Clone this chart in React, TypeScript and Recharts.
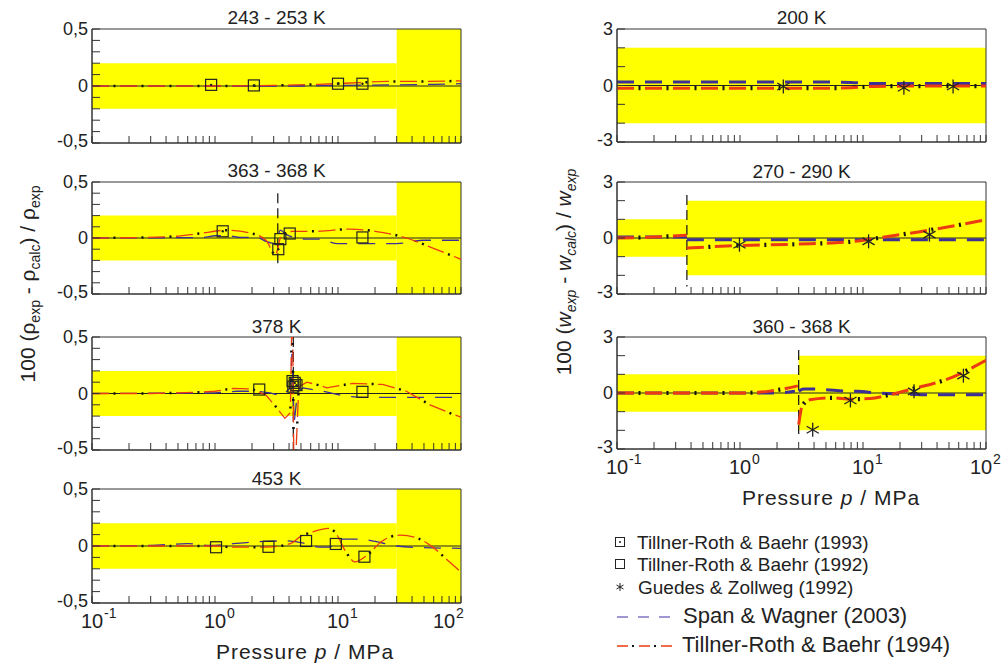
import React from 'react'
import { ComposedChart, Line, Scatter, XAxis, YAxis, ReferenceArea, ReferenceLine } from 'recharts'

const FONT = '"Liberation Sans", Arial, Helvetica, sans-serif'
const YELLOW = '#ffff00'
const PURPLE = '#3d2f96'
const RED = '#ec3a12'
const INK = '#222'

// pressure axis (log), MPa
const xTicks = [
  0.1, 0.2, 0.3, 0.4, 0.5, 0.6, 0.7, 0.8, 0.9,
  1, 2, 3, 4, 5, 6, 7, 8, 9,
  10, 20, 30, 40, 50, 60, 70, 80, 90, 100,
]
const xDecades = [0.1, 1, 10, 100]
const xExponents = ['-1', '0', '1', '2']

const rhoTicks = [-0.5, -0.4, -0.3, -0.2, -0.1, 0, 0.1, 0.2, 0.3, 0.4, 0.5]
const rhoLabels = [{ v: -0.5, t: '-0,5' }, { v: 0, t: '0' }, { v: 0.5, t: '0,5' }]
const wTicks = [-3, -2, -1, 0, 1, 2, 3]
const wLabels = [{ v: -3, t: '-3' }, { v: 0, t: '0' }, { v: 3, t: '3' }]

// tolerance bands
const rhoBands = [{ from: 0.1, to: 30, lo: -0.2, hi: 0.2 }, { from: 30, to: 100, lo: -0.5, hi: 0.5 }]
const w200Bands = [{ from: 0.1, to: 100, lo: -2, hi: 2 }]
const w280Bands = [{ from: 0.1, to: 0.37, lo: -1, hi: 1 }, { from: 0.37, to: 100, lo: -2, hi: 2 }]
const w364Bands = [{ from: 0.1, to: 3, lo: -1, hi: 1 }, { from: 3, to: 100, lo: -2, hi: 2 }]

// 243 - 253 K
const l1Span = [{ p: 0.1, dev: 0 }, { p: 1, dev: 0 }, { p: 5, dev: 0 }, { p: 10, dev: 0.005 }, { p: 30, dev: 0.01 }, { p: 60, dev: 0.015 }, { p: 100, dev: 0.02 }]
const l1Tr94 = [{ p: 0.1, dev: 0 }, { p: 1, dev: 0 }, { p: 3, dev: 0.005 }, { p: 7, dev: 0.015 }, { p: 15, dev: 0.03 }, { p: 25, dev: 0.04 }, { p: 50, dev: 0.04 }, { p: 100, dev: 0.045 }]
const l1Sq93 = [{ p: 0.93, dev: 0.01 }, { p: 2.07, dev: 0.005 }, { p: 10, dev: 0.02 }, { p: 15.8, dev: 0.02 }]

// 363 - 368 K
const l2Span = [
  { p: 0.1, dev: 0 }, { p: 0.8, dev: 0.005 }, { p: 1.0, dev: 0.02 }, { p: 1.3, dev: 0.02 }, { p: 1.6, dev: 0.005 },
  { p: 2.2, dev: 0.005 }, { p: 2.6, dev: -0.03 }, { p: 3.1, dev: -0.05 }, { p: 3.4, dev: 0.07 }, { p: 3.8, dev: 0.03 },
  { p: 5.5, dev: -0.01 }, { p: 7, dev: -0.01 }, { p: 10, dev: -0.05 }, { p: 20, dev: -0.05 }, { p: 30, dev: -0.05 },
  { p: 50, dev: -0.02 }, { p: 100, dev: -0.02 },
]
const l2Tr94 = [
  { p: 0.1, dev: 0 }, { p: 0.4, dev: 0.01 }, { p: 0.75, dev: 0.04 }, { p: 1.25, dev: 0.07 }, { p: 2.0, dev: 0.04 },
  { p: 2.6, dev: -0.02 }, { p: 3.1, dev: -0.15 }, { p: 3.4, dev: 0 }, { p: 3.6, dev: 0.03 }, { p: 4.3, dev: 0.06 },
  { p: 6.8, dev: 0.06 }, { p: 12.5, dev: 0.08 }, { p: 20, dev: 0.06 }, { p: 36, dev: 0 }, { p: 59, dev: -0.09 }, { p: 100, dev: -0.19 },
]
const l2Sq93 = [{ p: 1.155, dev: 0.06 }, { p: 3.27, dev: -0.1 }]
const l2Sq92 = [{ p: 3.4, dev: -0.01 }, { p: 4.05, dev: 0.04 }, { p: 15.8, dev: 0.005 }]
const l2Sat = { p: 3.24, hi: 0.4, lo: -0.27 }

// 378 K
const l3Span = [
  { p: 0.1, dev: 0 }, { p: 1, dev: 0.005 }, { p: 1.5, dev: 0.02 }, { p: 2.2, dev: 0.02 }, { p: 2.8, dev: 0.005 },
  { p: 3.5, dev: -0.02 }, { p: 4.1, dev: 0.05 }, { p: 4.22, dev: 0.35 }, { p: 4.4, dev: -0.26 }, { p: 4.7, dev: 0.02 },
  { p: 5.2, dev: 0.05 }, { p: 6.5, dev: 0.03 }, { p: 8, dev: 0.015 }, { p: 11, dev: -0.02 }, { p: 15, dev: -0.035 },
  { p: 30, dev: -0.035 }, { p: 90, dev: -0.035 },
]
const l3Tr94 = [
  { p: 0.1, dev: 0 }, { p: 0.3, dev: 0 }, { p: 0.7, dev: 0.01 }, { p: 1.0, dev: 0.02 }, { p: 1.4, dev: 0.045 },
  { p: 2.0, dev: 0.04 }, { p: 2.6, dev: -0.015 }, { p: 3.2, dev: -0.13 }, { p: 3.7, dev: -0.22 }, { p: 4.1, dev: -0.17 },
  { p: 4.25, dev: 0.9 }, { p: 4.4, dev: -0.9 }, { p: 4.8, dev: 0.06 }, { p: 5.6, dev: 0.1 }, { p: 7.2, dev: 0.07 },
  { p: 8.1, dev: 0.05 }, { p: 13.2, dev: 0.09 }, { p: 23, dev: 0.08 }, { p: 36, dev: 0.02 }, { p: 56, dev: -0.1 },
  { p: 89, dev: -0.19 }, { p: 100, dev: -0.21 },
]
const l3Sq93 = [{ p: 4.27, dev: 0.11 }, { p: 4.45, dev: 0.094 }, { p: 4.6, dev: 0.074 }, { p: 4.33, dev: 0.06 }]
const l3Sq92 = [{ p: 2.29, dev: 0.035 }, { p: 15.8, dev: 0.015 }]
const l3Sat = { p: 4.33, hi: 0.5, lo: -0.5 }

// 453 K
const l4Span = [
  { p: 0.1, dev: 0 }, { p: 0.3, dev: 0.005 }, { p: 0.6, dev: 0.02 }, { p: 0.9, dev: 0.005 }, { p: 1.4, dev: 0.02 },
  { p: 2.5, dev: 0.04 }, { p: 3.8, dev: 0.045 }, { p: 5, dev: 0.03 }, { p: 7, dev: -0.01 }, { p: 8.5, dev: -0.01 },
  { p: 11, dev: 0.06 }, { p: 15, dev: 0.06 }, { p: 20, dev: 0.04 }, { p: 30, dev: 0 }, { p: 50, dev: -0.015 }, { p: 100, dev: -0.02 },
]
const l4Tr94 = [
  { p: 0.1, dev: 0 }, { p: 1, dev: 0 }, { p: 1.4, dev: -0.01 }, { p: 2.6, dev: -0.01 }, { p: 4.1, dev: 0.02 },
  { p: 4.9, dev: 0.08 }, { p: 6.3, dev: 0.125 }, { p: 8.3, dev: 0.155 }, { p: 9.3, dev: 0.13 }, { p: 11.8, dev: -0.065 },
  { p: 13.7, dev: -0.14 }, { p: 17.3, dev: -0.08 }, { p: 22.6, dev: 0.04 }, { p: 32, dev: 0.095 }, { p: 44, dev: 0.07 },
  { p: 59, dev: -0.01 }, { p: 77, dev: -0.12 }, { p: 100, dev: -0.23 },
]
const l4Sq92 = [{ p: 1.02, dev: -0.011 }, { p: 2.72, dev: -0.007 }, { p: 5.5, dev: 0.044 }, { p: 9.6, dev: 0.018 }, { p: 16.4, dev: -0.094 }]

// 200 K (speed of sound)
const r1Span = [{ p: 0.1, dev: 0.18 }, { p: 5, dev: 0.18 }, { p: 8, dev: 0.16 }, { p: 12, dev: 0.1 }, { p: 100, dev: 0.1 }]
const r1Tr94 = [{ p: 0.1, dev: -0.14 }, { p: 5, dev: -0.14 }, { p: 8, dev: -0.12 }, { p: 12, dev: -0.05 }, { p: 30, dev: -0.03 }, { p: 100, dev: -0.03 }]
const r1Stars = [{ p: 2.25, dev: -0.05 }, { p: 21.5, dev: -0.12 }, { p: 54, dev: -0.05 }]

// 270 - 290 K
const r2Span = [{ p: 0.1, dev: 0.06 }, { p: 0.37, dev: 0.06 }, { p: 0.37, dev: null }, { p: 0.37, dev: -0.1 }, { p: 100, dev: -0.1 }]
const r2Tr94 = [
  { p: 0.1, dev: 0 }, { p: 0.2, dev: 0.05 }, { p: 0.37, dev: 0.15 }, { p: 0.37, dev: null }, { p: 0.37, dev: -0.54 },
  { p: 0.94, dev: -0.41 }, { p: 2.9, dev: -0.33 }, { p: 8.3, dev: -0.19 }, { p: 14.5, dev: 0.04 }, { p: 29, dev: 0.34 },
  { p: 54, dev: 0.64 }, { p: 100, dev: 0.98 },
]
const r2Stars = [{ p: 0.99, dev: -0.36 }, { p: 11.1, dev: -0.18 }, { p: 34.7, dev: 0.18 }]
const r2Sat = { p: 0.37, hi: 2.3, lo: -2.6 }

// 360 - 368 K
const r3Span = [
  { p: 0.1, dev: 0 }, { p: 2, dev: 0 }, { p: 2.8, dev: 0.1 }, { p: 3.0, dev: null }, { p: 3.0, dev: 0.1 },
  { p: 3.3, dev: 0.22 }, { p: 5, dev: 0.18 }, { p: 7, dev: 0.1 }, { p: 9, dev: 0.09 }, { p: 13, dev: 0 },
  { p: 20, dev: -0.05 }, { p: 30, dev: -0.09 }, { p: 100, dev: -0.09 },
]
const r3Tr94 = [
  { p: 0.1, dev: 0 }, { p: 1, dev: 0 }, { p: 1.75, dev: 0.1 }, { p: 2.4, dev: 0.25 }, { p: 2.95, dev: 0.38 },
  { p: 3.0, dev: null }, { p: 3.0, dev: -1.7 }, { p: 3.2, dev: -0.7 }, { p: 3.7, dev: -0.36 }, { p: 5.7, dev: -0.26 },
  { p: 7.9, dev: -0.33 }, { p: 11.4, dev: -0.3 }, { p: 16.6, dev: -0.09 }, { p: 27, dev: 0.27 }, { p: 48, dev: 0.73 },
  { p: 100, dev: 1.75 },
]
const r3Stars = [{ p: 3.9, dev: -1.97 }, { p: 7.9, dev: -0.4 }, { p: 26, dev: 0.09 }, { p: 65.5, dev: 0.93 }]
const r3Sat = { p: 3.0, hi: 2.3, lo: -2.2 }

const PW = 369
const ML = 60
const MT = 10
const MR = 24
const MB = 34

const SquareShape = (props: any) => (
  <rect x={props.cx - 5.5} y={props.cy - 5.5} width={11} height={11} fill="none" stroke={INK} strokeWidth={1.2} />
)
const DottedSquareShape = (props: any) => (
  <g>
    <rect x={props.cx - 5.5} y={props.cy - 5.5} width={11} height={11} fill="none" stroke={INK} strokeWidth={1.2} />
    <circle cx={props.cx} cy={props.cy} r={1.2} fill={INK} />
  </g>
)
const StarShape = (props: any) => {
  const { cx, cy } = props
  const r = 7
  const a = r * 0.866
  return (
    <g stroke={INK} strokeWidth={1.3}>
      <line x1={cx} y1={cy - r} x2={cx} y2={cy + r} />
      <line x1={cx - a} y1={cy - r / 2} x2={cx + a} y2={cy + r / 2} />
      <line x1={cx - a} y1={cy + r / 2} x2={cx + a} y2={cy - r / 2} />
    </g>
  )
}

function Panel(props: any) {
  const {
    x0, y0, h, yDomain, yTicks, yLabels, bands, span, tr94,
    sq93 = [], sq92 = [], stars = [], sat, showX = false, lastShift = 0, lw = 1.3, curve = 'monotone',
  } = props

  const xTick = (tp: any) => {
    const i = xDecades.indexOf(tp.payload.value)
    if (!showX || i < 0) return <g />
    const cx = tp.payload.value === 100 ? tp.x - lastShift : tp.x
    return (
      <g fill={INK} fontFamily={FONT}>
        <text x={cx} y={tp.y + 18} textAnchor="middle" dominantBaseline="central" fontSize={20}>10</text>
        <text x={cx + 12} y={tp.y + 10} textAnchor="start" dominantBaseline="central" fontSize={14}>{xExponents[i]}</text>
      </g>
    )
  }
  const yTick = (tp: any) => {
    const lab = yLabels.find((l: any) => l.v === tp.payload.value)
    if (!lab) return <g />
    const nudge = lab.v === yDomain[0] ? -2 : 0
    return (
      <text x={tp.x} y={tp.y + nudge} textAnchor="end" dominantBaseline="central" fontSize={18} fill={INK} fontFamily={FONT}>
        {lab.t}
      </text>
    )
  }

  return (
    <div style={{ position: 'absolute', left: x0 - ML, top: y0 - MT }}>
      <ComposedChart width={ML + PW + MR} height={MT + h + MB} margin={{ top: MT, right: MR, left: 0, bottom: 0 }}>
        <XAxis
          dataKey="p" type="number" scale="log" domain={[0.1, 100]} allowDataOverflow
          ticks={xTicks} interval={0} height={MB} tickSize={-7} tickMargin={7}
          stroke="#333" tickLine={{ stroke: '#333' }} tick={xTick}
        />
        <YAxis
          dataKey="dev" type="number" domain={yDomain} allowDataOverflow
          ticks={yTicks} interval={0} width={ML} tickSize={-8} tickMargin={12}
          stroke="#333" tickLine={{ stroke: '#333' }} tick={yTick}
        />
        {bands.map((b: any, i: number) => (
          <ReferenceArea key={i} x1={b.from} x2={b.to} y1={b.lo} y2={b.hi} fill={YELLOW} fillOpacity={1} stroke="none" />
        ))}
        <ReferenceLine y={0} stroke={INK} strokeWidth={1} />
        {sat && (
          <ReferenceLine
            segment={[{ x: sat.p, y: sat.hi }, { x: sat.p, y: sat.lo }]}
            stroke="#111" strokeWidth={1.2} strokeDasharray="10 5"
          />
        )}
        <Line data={span} dataKey="dev" type={curve} stroke={PURPLE} strokeWidth={lw} strokeDasharray="17 11"
          dot={false} activeDot={false} isAnimationActive={false} />
        <Line data={tr94} dataKey="dev" type={curve} stroke={RED} strokeWidth={lw} strokeDasharray="17 11"
          dot={false} activeDot={false} isAnimationActive={false} />
        <Line data={tr94} dataKey="dev" type={curve} stroke="#111" strokeWidth={lw + 1.2} strokeDasharray="2 26"
          strokeDashoffset={6.5} dot={false} activeDot={false} isAnimationActive={false} />
        <Scatter data={sq93} shape={DottedSquareShape} isAnimationActive={false} />
        <Scatter data={sq92} shape={SquareShape} isAnimationActive={false} />
        <Scatter data={stars} shape={StarShape} isAnimationActive={false} />
        <ReferenceArea x1={0.1} x2={100} y1={yDomain[0]} y2={yDomain[1]} fill="none" stroke="#333" strokeWidth={1} />
      </ComposedChart>
    </div>
  )
}

const Title = ({ x, y, children }: any) => (
  <div style={{ position: 'absolute', left: x, top: y, transform: 'translate(-50%, -50%)', fontSize: 19, lineHeight: 1, whiteSpace: 'nowrap', color: INK }}>
    {children}
  </div>
)

const sub = { fontSize: 14, position: 'relative' as const, top: 5 }

export default function App() {
  const lx = 92
  const rx = 617
  const lc = lx + PW / 2
  const rc = rx + PW / 2
  return (
    <div style={{ position: 'absolute', left: 0, top: 0, width: 1002, height: 663, background: '#fff', fontFamily: FONT, color: INK, overflow: 'hidden' }}>
      <Panel x0={lx} y0={29} h={114} yDomain={[-0.5, 0.5]} yTicks={rhoTicks} yLabels={rhoLabels} bands={rhoBands}
        span={l1Span} tr94={l1Tr94} sq93={l1Sq93} />
      <Panel x0={lx} y0={182} h={112} yDomain={[-0.5, 0.5]} yTicks={rhoTicks} yLabels={rhoLabels} bands={rhoBands}
        span={l2Span} tr94={l2Tr94} sq93={l2Sq93} sq92={l2Sq92} sat={l2Sat} />
      <Panel x0={lx} y0={337} h={113} yDomain={[-0.5, 0.5]} yTicks={rhoTicks} yLabels={rhoLabels} bands={rhoBands}
        span={l3Span} tr94={l3Tr94} sq93={l3Sq93} sq92={l3Sq92} sat={l3Sat} curve="linear" />
      <Panel x0={lx} y0={489} h={114} yDomain={[-0.5, 0.5]} yTicks={rhoTicks} yLabels={rhoLabels} bands={rhoBands}
        span={l4Span} tr94={l4Tr94} sq92={l4Sq92} showX lastShift={17} />

      <Panel x0={rx} y0={29} h={113} yDomain={[-3, 3]} yTicks={wTicks} yLabels={wLabels} bands={w200Bands}
        span={r1Span} tr94={r1Tr94} stars={r1Stars} lw={3} />
      <Panel x0={rx} y0={182} h={112} yDomain={[-3, 3]} yTicks={wTicks} yLabels={wLabels} bands={w280Bands}
        span={r2Span} tr94={r2Tr94} stars={r2Stars} sat={r2Sat} lw={3} />
      <Panel x0={rx} y0={337} h={112} yDomain={[-3, 3]} yTicks={wTicks} yLabels={wLabels} bands={w364Bands}
        span={r3Span} tr94={r3Tr94} stars={r3Stars} sat={r3Sat} lw={3} showX lastShift={5} />

      <Title x={lc} y={17}>243 - 253 K</Title>
      <Title x={lc} y={170}>363 - 368 K</Title>
      <Title x={lc} y={326}>378 K</Title>
      <Title x={lc} y={478}>453 K</Title>
      <Title x={rc} y={17}>200 K</Title>
      <Title x={rc} y={171}>270 - 290 K</Title>
      <Title x={rc} y={326}>360 - 368 K</Title>

      <div style={{ position: 'absolute', left: 305, top: 651, transform: 'translate(-50%, -50%)', fontSize: 21, letterSpacing: 1, lineHeight: 1, whiteSpace: 'nowrap' }}>
        Pressure <i>p</i> / MPa
      </div>
      <div style={{ position: 'absolute', left: 831, top: 497, transform: 'translate(-50%, -50%)', fontSize: 21, letterSpacing: 1, lineHeight: 1, whiteSpace: 'nowrap' }}>
        Pressure <i>p</i> / MPa
      </div>

      <div style={{ position: 'absolute', left: 27, top: 284, transform: 'translate(-50%, -50%) rotate(-90deg)', fontSize: 21, lineHeight: 1, whiteSpace: 'nowrap' }}>
        100 (ρ<span style={sub}>exp</span> - ρ<span style={sub}>calc</span>) / ρ<span style={sub}>exp</span>
      </div>
      <div style={{ position: 'absolute', left: 563, top: 272, transform: 'translate(-50%, -50%) rotate(-90deg)', fontSize: 21, lineHeight: 1, whiteSpace: 'nowrap' }}>
        100 (<i>w</i><i style={sub}>exp</i> - <i>w</i><i style={sub}>calc</i>) / <i>w</i><i style={sub}>exp</i>
      </div>

      <svg style={{ position: 'absolute', left: 0, top: 0 }} width={1002} height={663}>
        <rect x={615.5} y={537.5} width={9} height={9} fill="none" stroke={INK} strokeWidth={1} />
        <circle cx={620} cy={542} r={1} fill={INK} />
        <rect x={615.5} y={559.5} width={9} height={9} fill="none" stroke={INK} strokeWidth={1} />
        <g stroke={INK} strokeWidth={1}>
          <line x1={620} y1={583} x2={620} y2={591} />
          <line x1={616.5} y1={585} x2={623.5} y2={589} />
          <line x1={616.5} y1={589} x2={623.5} y2={585} />
        </g>
        <line x1={617} y1={617} x2={672} y2={617} stroke="#8273c4" strokeWidth={1.5} strokeDasharray="11 10" />
        <line x1={617} y1={646} x2={672} y2={646} stroke={RED} strokeWidth={1.5} strokeDasharray="11 11" />
        <line x1={617} y1={646} x2={672} y2={646} stroke="#111" strokeWidth={2} strokeDasharray="2 20" strokeDashoffset={-15} />
      </svg>
      <div style={{ position: 'absolute', left: 637, top: 542, transform: 'translateY(-50%)', fontSize: 19, lineHeight: 1, whiteSpace: 'nowrap' }}>Tillner-Roth &amp; Baehr (1993)</div>
      <div style={{ position: 'absolute', left: 637, top: 564, transform: 'translateY(-50%)', fontSize: 19, lineHeight: 1, whiteSpace: 'nowrap' }}>Tillner-Roth &amp; Baehr (1992)</div>
      <div style={{ position: 'absolute', left: 638, top: 587, transform: 'translateY(-50%)', fontSize: 19, lineHeight: 1, whiteSpace: 'nowrap' }}>Guedes &amp; Zollweg (1992)</div>
      <div style={{ position: 'absolute', left: 683, top: 616, transform: 'translateY(-50%)', fontSize: 22, lineHeight: 1, whiteSpace: 'nowrap' }}>Span &amp; Wagner (2003)</div>
      <div style={{ position: 'absolute', left: 682, top: 645, transform: 'translateY(-50%)', fontSize: 22, lineHeight: 1, whiteSpace: 'nowrap' }}>Tillner-Roth &amp; Baehr (1994)</div>
    </div>
  )
}
